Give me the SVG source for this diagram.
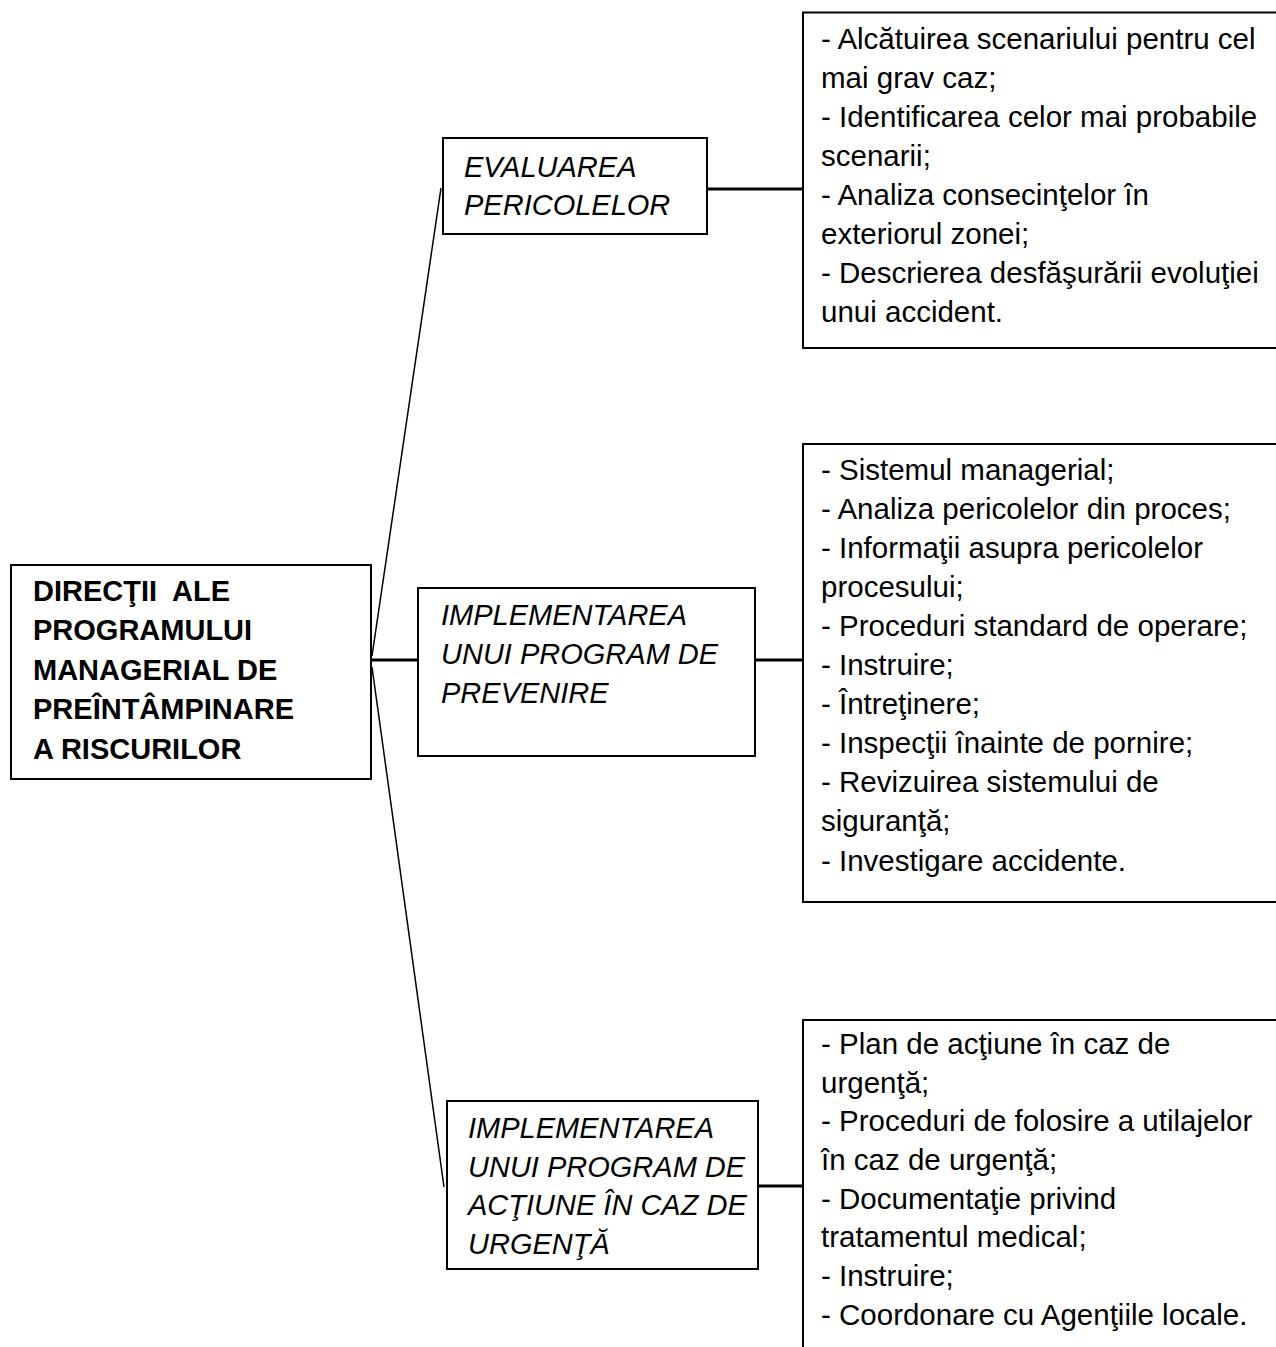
<svg xmlns="http://www.w3.org/2000/svg" width="1276" height="1347" viewBox="0 0 1276 1347">
<style>
.box{fill:#fff;stroke:#000;stroke-width:2}
.t{font-family:"Liberation Sans",Arial,sans-serif;font-size:29.5px;fill:#000}
.b{font-weight:bold;font-size:29px}
.i{font-style:italic;font-size:29px}
.thick{stroke:#000;stroke-width:3;fill:none}
.thin{stroke:#000;stroke-width:1.5;fill:none}
</style>
<rect width="1276" height="1347" fill="#fff"/>
<g id="connectors">
<line class="thin" x1="372" y1="656" x2="441" y2="188"/>
<line class="thin" x1="372" y1="667" x2="444" y2="1187"/>
<line class="thick" x1="371" y1="660" x2="418" y2="660"/>
<line class="thick" x1="707" y1="189" x2="803" y2="189"/>
<line class="thick" x1="755" y1="660" x2="803" y2="660"/>
<line class="thick" x1="755" y1="1186" x2="803" y2="1186"/>
</g>
<g id="root">
<rect class="box" x="11" y="565" width="360" height="214"/>
<text class="t b"><tspan x="33" y="601">DIRECŢII&#160; ALE</tspan><tspan x="33" y="640">PROGRAMULUI</tspan><tspan x="33" y="680">MANAGERIAL DE</tspan><tspan x="33" y="719">PREÎNTÂMPINARE</tspan><tspan x="33" y="759">A RISCURILOR</tspan></text>
</g>
<g id="evaluarea">
<rect class="box" x="443" y="138" width="264" height="96"/>
<text class="t i"><tspan x="464" y="177">EVALUAREA</tspan><tspan x="464" y="215">PERICOLELOR</tspan></text>
</g>
<g id="prevenire">
<rect class="box" x="418" y="588" width="337" height="168"/>
<text class="t i"><tspan x="441" y="625">IMPLEMENTAREA</tspan><tspan x="441" y="664">UNUI PROGRAM DE</tspan><tspan x="441" y="703">PREVENIRE</tspan></text>
</g>
<g id="urgenta">
<rect class="box" x="447" y="1101" width="311" height="168"/>
<text class="t i"><tspan x="468" y="1138">IMPLEMENTAREA</tspan><tspan x="468" y="1177">UNUI PROGRAM DE</tspan><tspan x="468" y="1215">ACŢIUNE ÎN CAZ DE</tspan><tspan x="468" y="1254">URGENŢĂ</tspan></text>
</g>
<g id="list-evaluarea">
<rect class="box" x="803" y="12.5" width="500" height="335.5"/>
<text class="t"><tspan x="821" y="49">- Alcătuirea scenariului pentru cel</tspan><tspan x="821" y="88">mai grav caz;</tspan><tspan x="821" y="127">- Identificarea celor mai probabile</tspan><tspan x="821" y="166">scenarii;</tspan><tspan x="821" y="205">- Analiza consecinţelor în</tspan><tspan x="821" y="244">exteriorul zonei;</tspan><tspan x="821" y="283">- Descrierea desfăşurării evoluţiei</tspan><tspan x="821" y="322">unui accident.</tspan></text>
</g>
<g id="list-prevenire">
<rect class="box" x="803" y="444" width="500" height="458"/>
<text class="t"><tspan x="821" y="480">- Sistemul managerial;</tspan><tspan x="821" y="519">- Analiza pericolelor din proces;</tspan><tspan x="821" y="558">- Informaţii asupra pericolelor</tspan><tspan x="821" y="597">procesului;</tspan><tspan x="821" y="636">- Proceduri standard de operare;</tspan><tspan x="821" y="675">- Instruire;</tspan><tspan x="821" y="714">- Întreţinere;</tspan><tspan x="821" y="753">- Inspecţii înainte de pornire;</tspan><tspan x="821" y="792">- Revizuirea sistemului de</tspan><tspan x="821" y="831">siguranţă;</tspan><tspan x="821" y="871">- Investigare accidente.</tspan></text>
</g>
<g id="list-urgenta">
<rect class="box" x="803" y="1020" width="500" height="400"/>
<text class="t"><tspan x="821" y="1054">- Plan de acţiune în caz de</tspan><tspan x="821" y="1093">urgenţă;</tspan><tspan x="821" y="1131">- Proceduri de folosire a utilajelor</tspan><tspan x="821" y="1170">în caz de urgenţă;</tspan><tspan x="821" y="1209">- Documentaţie privind</tspan><tspan x="821" y="1247">tratamentul medical;</tspan><tspan x="821" y="1286">- Instruire;</tspan><tspan x="821" y="1325">- Coordonare cu Agenţiile locale.</tspan></text>
</g>
</svg>
